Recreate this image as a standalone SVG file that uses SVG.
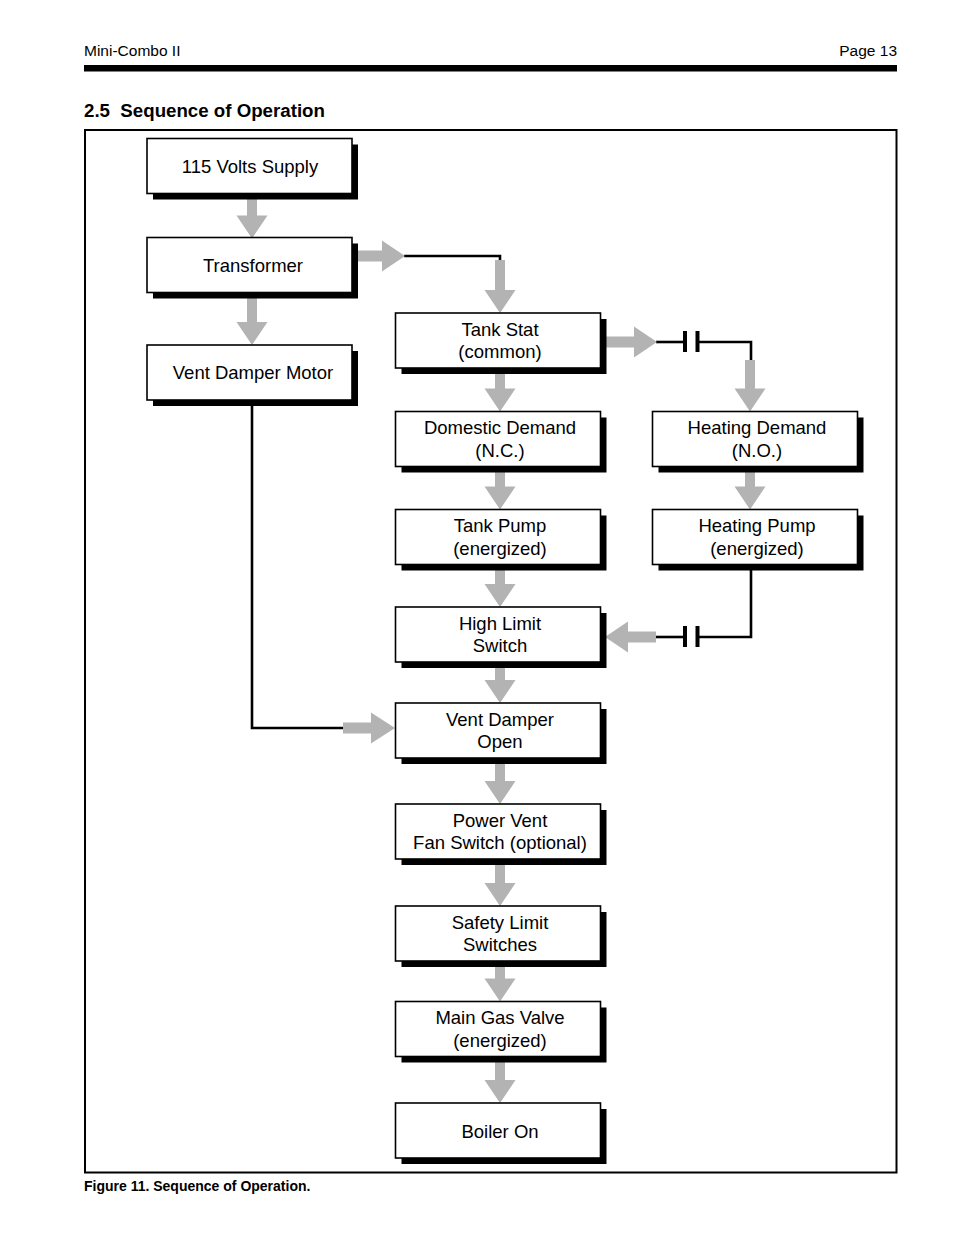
<svg xmlns="http://www.w3.org/2000/svg" width="954" height="1235" viewBox="0 0 954 1235">
<style>
text{font-family:"Liberation Sans",Arial,Helvetica,sans-serif;fill:#000}
.t{font-size:18.5px;text-anchor:middle}
.sh{fill:#000}
.bx{fill:#fff;stroke:#000;stroke-width:1.6}
.ga{fill:#b3b3b3}
.w{fill:none;stroke:#000;stroke-width:2.6;stroke-linejoin:miter}
.pl{fill:#000}
</style>
<rect width="954" height="1235" fill="#fff"/>
<g id="header">
<text x="84" y="56" font-size="15.5">Mini-Combo II</text>
<text x="897" y="56" font-size="15.5" text-anchor="end">Page 13</text>
<rect x="84" y="65" width="813" height="6.5" fill="#000"/>
<text x="84" y="117" font-size="18.7" font-weight="bold" xml:space="preserve">2.5  Sequence of Operation</text>
</g>
<rect id="frame" x="85" y="130" width="811.5" height="1042.5" fill="none" stroke="#000" stroke-width="2"/>
<text id="caption" x="84" y="1191" font-size="14" font-weight="bold">Figure 11. Sequence of Operation.</text>

<g id="connectors">
<polyline class="w" points="404,256 500,256 500,262"/>
<polyline class="w" points="656,342 685,342"/>
<polyline class="w" points="697,342 751,342 751,362"/>
<polyline class="w" points="751,569 751,637 697,637"/>
<polyline class="w" points="685,637 655,637"/>
<polyline class="w" points="252,402 252,728 346,728"/>
<rect class="pl" x="683" y="331" width="4" height="21"/>
<rect class="pl" x="695.5" y="331" width="4" height="21"/>
<rect class="pl" x="683" y="626" width="4" height="21"/>
<rect class="pl" x="695.5" y="626" width="4" height="21"/>
<path class="ga" d="M247,199 H257 V215.5 H267.5 L252,238.5 L236.5,215.5 H247 Z"/>
<path class="ga" d="M247,298 H257 V322 H267.5 L252,345 L236.5,322 H247 Z"/>
<path class="ga" d="M495,260 H505 V290 H515.5 L500,313 L484.5,290 H495 Z"/>
<path class="ga" d="M745,360 H755 V388.5 H765.5 L750,411.5 L734.5,388.5 H745 Z"/>
<path class="ga" d="M495,373 H505 V388.5 H515.5 L500,411.5 L484.5,388.5 H495 Z"/>
<path class="ga" d="M495,471 H505 V486.5 H515.5 L500,509.5 L484.5,486.5 H495 Z"/>
<path class="ga" d="M745,471 H755 V486.5 H765.5 L750,509.5 L734.5,486.5 H745 Z"/>
<path class="ga" d="M495,569 H505 V584 H515.5 L500,607 L484.5,584 H495 Z"/>
<path class="ga" d="M495,667 H505 V680 H515.5 L500,703 L484.5,680 H495 Z"/>
<path class="ga" d="M495,763 H505 V781 H515.5 L500,804 L484.5,781 H495 Z"/>
<path class="ga" d="M495,864 H505 V883 H515.5 L500,906 L484.5,883 H495 Z"/>
<path class="ga" d="M495,966 H505 V978.5 H515.5 L500,1001.5 L484.5,978.5 H495 Z"/>
<path class="ga" d="M495,1061 H505 V1080 H515.5 L500,1103 L484.5,1080 H495 Z"/>
<path class="ga" d="M358,250.5 H382 V240.5 L405,256 L382,271.5 V261.5 H358 Z"/>
<path class="ga" d="M606,336.5 H634 V326.5 L657,342 L634,357.5 V347.5 H606 Z"/>
<path class="ga" d="M656,631.5 H628 V621.5 L605,637 L628,652.5 V642.5 H656 Z"/>
<path class="ga" d="M343,722.5 H371 V712.5 L395,728 L371,743.5 V733.5 H343 Z"/>
</g>

<g id="n-supply"><rect class="sh" x="153" y="144.5" width="205" height="55"/><rect class="bx" x="147" y="138.5" width="205" height="55"/><text class="t" x="250" y="172.5">115 Volts Supply</text></g>
<g id="n-transformer"><rect class="sh" x="153" y="243.5" width="205" height="55"/><rect class="bx" x="147" y="237.5" width="205" height="55"/><text class="t" x="253" y="271.5">Transformer</text></g>
<g id="n-vdmotor"><rect class="sh" x="153" y="351" width="205" height="55"/><rect class="bx" x="147" y="345" width="205" height="55"/><text class="t" x="253" y="379">Vent Damper Motor</text></g>

<g id="n-tankstat"><rect class="sh" x="401.5" y="319" width="205" height="55"/><rect class="bx" x="395.5" y="313" width="205" height="55"/><text class="t" x="500" y="335.5">Tank Stat</text><text class="t" x="500" y="358">(common)</text></g>
<g id="n-domestic"><rect class="sh" x="401.5" y="417.5" width="205" height="55"/><rect class="bx" x="395.5" y="411.5" width="205" height="55"/><text class="t" x="500" y="434">Domestic Demand</text><text class="t" x="500" y="456.5">(N.C.)</text></g>
<g id="n-tankpump"><rect class="sh" x="401.5" y="515.5" width="205" height="55"/><rect class="bx" x="395.5" y="509.5" width="205" height="55"/><text class="t" x="500" y="532">Tank Pump</text><text class="t" x="500" y="554.5">(energized)</text></g>
<g id="n-highlimit"><rect class="sh" x="401.5" y="613" width="205" height="55"/><rect class="bx" x="395.5" y="607" width="205" height="55"/><text class="t" x="500" y="629.5">High Limit</text><text class="t" x="500" y="652">Switch</text></g>
<g id="n-vdopen"><rect class="sh" x="401.5" y="709" width="205" height="55"/><rect class="bx" x="395.5" y="703" width="205" height="55"/><text class="t" x="500" y="725.5">Vent Damper</text><text class="t" x="500" y="748">Open</text></g>
<g id="n-powervent"><rect class="sh" x="401.5" y="810" width="205" height="55"/><rect class="bx" x="395.5" y="804" width="205" height="55"/><text class="t" x="500" y="826.5">Power Vent</text><text class="t" x="500" y="849">Fan Switch (optional)</text></g>
<g id="n-safety"><rect class="sh" x="401.5" y="912" width="205" height="55"/><rect class="bx" x="395.5" y="906" width="205" height="55"/><text class="t" x="500" y="928.5">Safety Limit</text><text class="t" x="500" y="951">Switches</text></g>
<g id="n-gasvalve"><rect class="sh" x="401.5" y="1007.5" width="205" height="55"/><rect class="bx" x="395.5" y="1001.5" width="205" height="55"/><text class="t" x="500" y="1024">Main Gas Valve</text><text class="t" x="500" y="1046.5">(energized)</text></g>
<g id="n-boiler"><rect class="sh" x="401.5" y="1109" width="205" height="55"/><rect class="bx" x="395.5" y="1103" width="205" height="55"/><text class="t" x="500" y="1137.5">Boiler On</text></g>

<g id="n-heatdemand"><rect class="sh" x="658.5" y="417.5" width="205" height="55"/><rect class="bx" x="652.5" y="411.5" width="205" height="55"/><text class="t" x="757" y="434">Heating Demand</text><text class="t" x="757" y="456.5">(N.O.)</text></g>
<g id="n-heatpump"><rect class="sh" x="658.5" y="515.5" width="205" height="55"/><rect class="bx" x="652.5" y="509.5" width="205" height="55"/><text class="t" x="757" y="532">Heating Pump</text><text class="t" x="757" y="554.5">(energized)</text></g>
</svg>
